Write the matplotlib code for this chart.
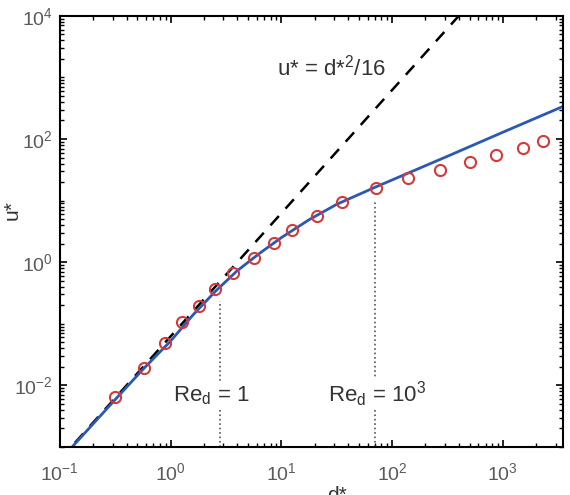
import matplotlib
matplotlib.use("Agg")
import matplotlib.pyplot as plt
import numpy as np
from matplotlib.ticker import LogLocator, LogFormatterSciNotation, NullFormatter

plt.rcParams["font.family"] = ["Liberation Sans", "DejaVu Sans"]
plt.rcParams["mathtext.default"] = "regular"

# measured points (red circles)
d_obs = [0.318, 0.571, 0.883, 1.28, 1.79, 2.51, 3.63, 5.62, 8.51, 12.6,
         20.9, 35.5, 70.8, 138, 269, 501, 871, 1514, 2291]
u_obs = [0.00646, 0.0195, 0.0479, 0.107, 0.191, 0.363, 0.661, 1.15, 2.04, 3.31,
         5.62, 9.33, 15.8, 22.9, 30.9, 41.7, 55.0, 70.8, 91.2]

# blue model curve
d_fit = [0.129, 0.316, 0.562, 1.0, 1.585, 2.512, 3.981, 6.31, 10.0, 17.8,
         31.6, 70.8, 316, 1000, 3500]
u_fit = [0.001, 0.00589, 0.0182, 0.0525, 0.138, 0.331, 0.724, 1.38, 2.51, 4.90,
         8.71, 16.6, 52.5, 129, 339]

# dashed line u* = d*^2/16 (end points)
d_stokes = [0.1, 1000]
u_stokes = [6.25e-4, 6.25e4]

# vertical markers Re_d = 1 and Re_d = 10^3
re_d = [2.77, 70.5]
re_top = [0.234, 9.8]
re_labels = [r"Re$_d$ = 1", r"Re$_d$ = 10$^3$"]

fig = plt.figure(figsize=(5.7, 4.95), dpi=100)
ax = fig.add_axes([0.105, 0.097, 0.883, 0.871])

ax.plot(d_stokes, u_stokes, "--", color="black", lw=1.8, dashes=(5, 4))
ax.plot(d_fit, u_fit, "-", color="#2a58b5", lw=2.0)
ax.plot(d_obs, u_obs, "o", mfc="none", mec="#d43a3a", mew=1.5, ms=8)

for x, top in zip(re_d, re_top):
    ax.plot([x, x], [1e-3, top], ":", color="#555555", lw=1.2)

ax.text(2.35, 0.0067, re_labels[0], fontsize=16, color="#333333",
        ha="center", va="center",
        bbox=dict(facecolor="white", edgecolor="none", pad=1))
ax.text(73, 0.0072, re_labels[1], fontsize=16, color="#333333",
        ha="center", va="center",
        bbox=dict(facecolor="white", edgecolor="none", pad=1))
ax.text(28.5, 1450, r"u* = d*$^2$/16", fontsize=16, color="#333333",
        ha="center", va="center")

ax.set_xscale("log")
ax.set_yscale("log")
ax.set_xlim(0.1, 3500)
ax.set_ylim(1e-3, 1e4)

ax.xaxis.set_major_locator(LogLocator(base=10, numticks=10))
ax.xaxis.set_minor_locator(LogLocator(base=10, subs=np.arange(2, 10), numticks=20))
ax.yaxis.set_major_locator(LogLocator(base=100, numticks=10))
ax.yaxis.set_minor_locator(LogLocator(base=10, subs=np.arange(1, 10), numticks=20))
ax.xaxis.set_major_formatter(LogFormatterSciNotation())
ax.yaxis.set_major_formatter(LogFormatterSciNotation(base=10))
ax.xaxis.set_minor_formatter(NullFormatter())
ax.yaxis.set_minor_formatter(NullFormatter())

ax.tick_params(which="both", direction="in", top=True, right=True,
               labelsize=14, labelcolor="#5a5a5a", color="black")
ax.tick_params(which="major", length=5, width=1.2)
ax.tick_params(which="minor", length=3, width=1.0)
ax.tick_params(axis="x", which="major", pad=11)
ax.tick_params(axis="y", which="major", pad=5)
for s in ax.spines.values():
    s.set_linewidth(1.5)

ax.set_xlabel("d*", fontsize=15, color="#333333")
ax.xaxis.set_label_coords(0.55, -0.09)
ax.xaxis.label.set_va("top")
ax.set_ylabel("u*", fontsize=15, color="#333333")
ax.yaxis.set_label_coords(-0.075, 0.55)

fig.savefig("out.png", dpi=100)
